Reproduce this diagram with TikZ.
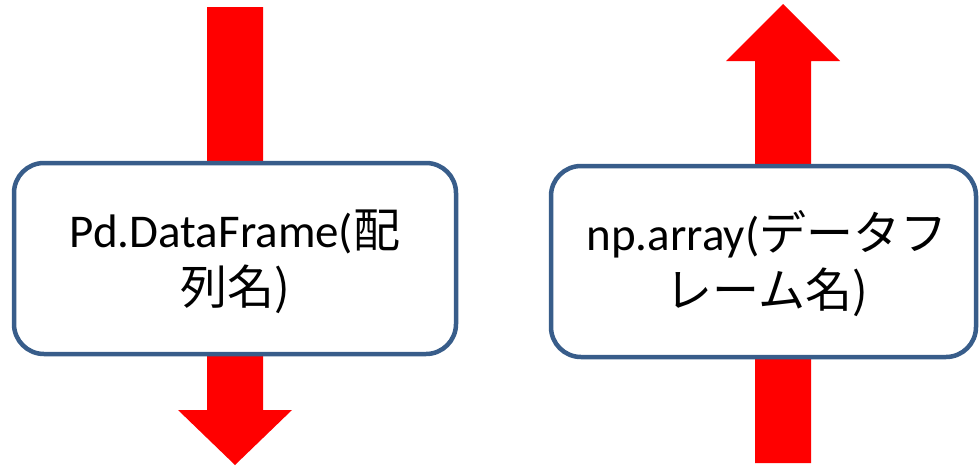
\documentclass[tikz,border=0pt]{standalone}
\usepackage{fontspec}
\setmainfont{Carlito}
\newfontfamily\cjk{Noto Sans CJK JP}
\definecolor{boxblue}{HTML}{385D8A}
\definecolor{arrowred}{HTML}{FF0000}
\tikzset{
  panel/.style={draw=boxblue, line width=4.5pt, fill=white, rounded corners=30pt},
  label/.style={align=center, font=\fontsize{47}{57}\selectfont, inner sep=0pt},
  blockarrow/.style={fill=arrowred, draw=none}
}
\begin{document}
\begin{tikzpicture}[x=1pt, y=-1pt]
\useasboundingbox (0,0) rectangle (980,466);
% downward block arrow behind the left panel
\fill[blockarrow] (207,7) -- (263,7) -- (263,410) -- (292,410) -- (235,465)
  -- (178,410) -- (207,410) -- cycle;
% upward block arrow behind the right panel
\fill[blockarrow] (755,463) -- (811,463) -- (811,61) -- (840,61) -- (783,4)
  -- (726,61) -- (755,61) -- cycle;
% panels
\draw[panel] (14,163) rectangle (456,354);
\draw[panel] (551,166) rectangle (976,357);
\node[label] (df) at (235,262) {Pd.DataFrame(\cjk{配}\\\cjk{列名})};
\node[label] (arr) at (767,264) {np.array(\cjk{データフ}\\\cjk{レーム名})};
\end{tikzpicture}
\end{document}
